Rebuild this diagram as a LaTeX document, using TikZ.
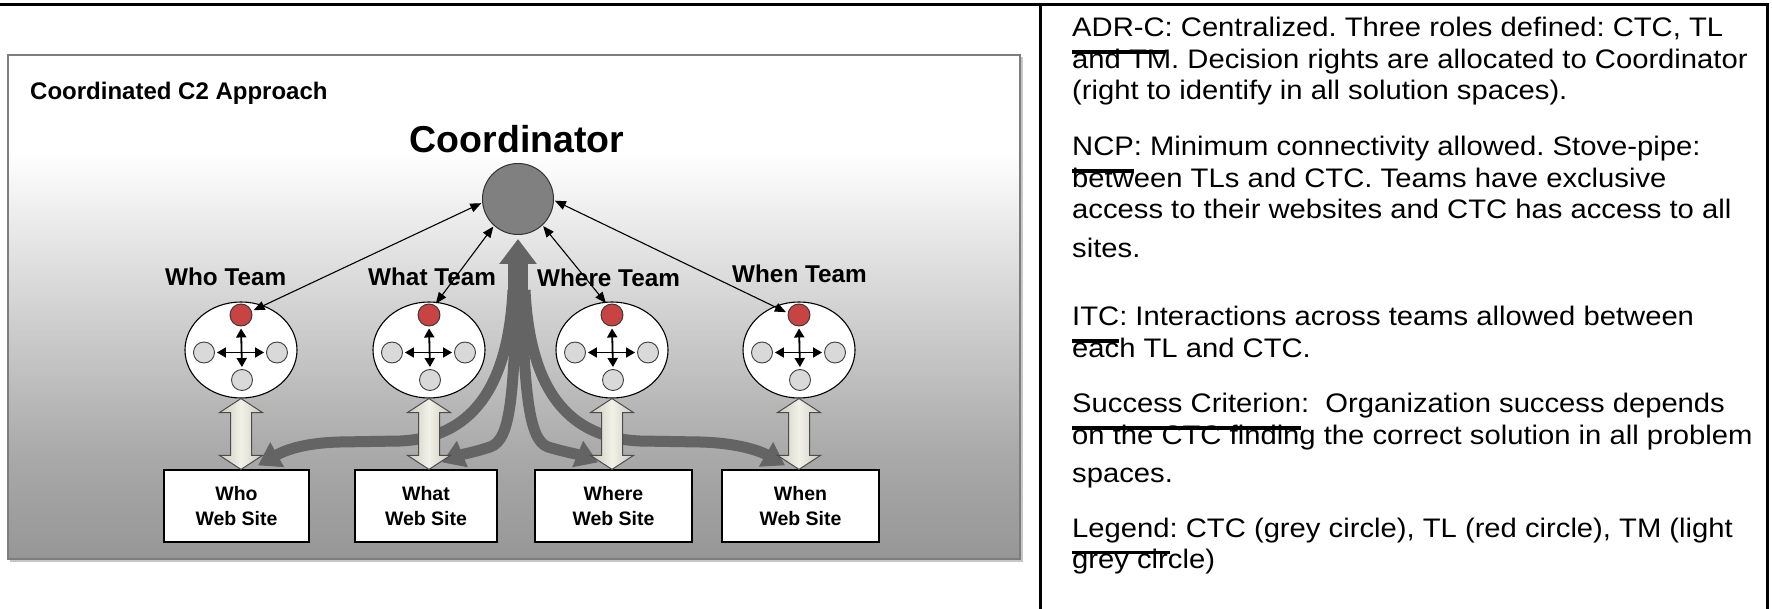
\documentclass[tikz,border=0pt]{standalone}
\usepackage{fontspec}
\setmainfont{Liberation Sans}
\newfontfamily\panelfont[FakeStretch=1.09]{Liberation Sans}
\usetikzlibrary{shapes.geometric,arrows.meta,calc}

\pgfdeclarelayer{framelayer}
\pgfdeclarelayer{pipelayer}
\pgfsetlayers{framelayer,pipelayer,main}

\definecolor{pipegray}{RGB}{100,100,100}
\definecolor{tlred}{RGB}{200,68,66}
\definecolor{tmgray}{RGB}{217,217,217}
\definecolor{ctcgray}{RGB}{128,128,128}
\definecolor{ivory}{RGB}{242,241,232}
\definecolor{ivoryedge}{RGB}{203,202,188}
\definecolor{framegray}{RGB}{125,125,125}

% thick bar set well below the baseline, as in the source document
\newcommand\ulbar[1]{\setbox0\hbox{#1}\rlap{\rule[-17pt]{\wd0}{3.5pt}}\box0}

\begin{document}
\frenchspacing
\begin{tikzpicture}[x=1pt,y=-1pt,
  sepline/.style={line width=3pt, draw=black},
  heading/.style={font=\fontsize{24}{28}\selectfont\bfseries, anchor=base west, inner sep=0},
  teamlabel/.style={font=\fontsize{24.3}{28}\selectfont\bfseries, anchor=base west, inner sep=0},
  teamring/.style={ellipse, draw=black, line width=1.1pt, fill=white, minimum width=112pt, minimum height=96pt, inner sep=0},
  leader/.style={circle, draw=black!80, line width=0.9pt, fill=tlred, minimum size=22pt, inner sep=0},
  member/.style={circle, draw=black!75, line width=0.9pt, fill=tmgray, minimum size=21pt, inner sep=0},
  hub/.style={circle, draw=black!80, line width=1pt, fill=ctcgray, minimum size=71pt, inner sep=0},
  sitebox/.style={rectangle, draw=black, line width=1.2pt, fill=white, minimum height=72pt, inner sep=0, align=center, font=\fontsize{19.5}{25}\selectfont\bfseries},
  tllink/.style={line width=1.1pt, {Triangle[length=11pt,width=9pt]}-{Triangle[length=11pt,width=9pt]}, shorten <=1pt, shorten >=2pt},
  teamcross/.style={line width=1.8pt, {Triangle[length=9pt,width=10pt]}-{Triangle[length=9pt,width=10pt]}, shorten <=2pt, shorten >=2pt},
  pipe/.style={line width=11pt, draw=pipegray, -{Triangle[length=22pt,width=27pt]}},
  siteway/.style={draw=black!70, line width=1pt, left color=ivoryedge, right color=ivoryedge, middle color=ivory},
  paneltext/.style={font=\panelfont\fontsize{26.8}{31.5}\selectfont\frenchspacing, anchor=base west, inner sep=0},
]
\useasboundingbox (0,0) rectangle (1772,609);

% diagram panel with vertical fade
\begin{pgfonlayer}{framelayer}
  \fill[white] (0,0) rectangle (1772,609);
  \begin{scope}
    \clip (8,55) rectangle (1020,559);
    \foreach \yy in {55,58,...,559} {
      \pgfmathsetmacro\g{\yy<150 ? 255 : (\yy<280 ? 255-(\yy-150)*37/130 : (\yy<450 ? 218-(\yy-280)*48/170 : 170-(\yy-450)*20/109))}
      \pgfmathsetmacro\gg{\g/255}
      \definecolor{stripgray}{gray}{\gg}
      \fill[stripgray] (8,\yy) rectangle (1020,\yy+4);
    }
  \end{scope}
  \draw[black!22, line width=1.5pt] (10,561) -- (1022,561) -- (1022,57);
  \draw[framegray, line width=1.5pt] (8,55) rectangle (1020,559);
\end{pgfonlayer}

% page rules
\draw[sepline] (0,4.7) -- (1768.5,4.7);
\draw[sepline] (1040.5,4.7) -- (1040.5,609);
\draw[sepline] (1767,4.7) -- (1767,609);

\node[heading] (title) at (30,100) {Coordinated C2 Approach};
\node[font=\fontsize{37.5}{42}\selectfont\bfseries, anchor=base, inner sep=0] (ctclabel) at (517,153) {Coordinator};

\node[hub] (ctc) at (518,199) {};
\coordinate (fork) at (518,300);

% web sites
\node[sitebox, minimum width=145pt] (b1) at (236.5,506) {Who\\Web Site};
\node[sitebox, minimum width=142pt] (b2) at (426,506) {What\\Web Site};
\node[sitebox, minimum width=157pt] (b3) at (613.5,506) {Where\\Web Site};
\node[sitebox, minimum width=157pt] (b4) at (800.5,506) {When\\Web Site};

% teams: leader on top, members left, right and below
\foreach \i/\cx in {1/241,2/429,3/612,4/799} {
  \node[teamring] (e\i) at (\cx,350) {};
  \node[leader] (tl\i) at (\cx,315) {};
  \node[member] (ml\i) at (\cx-37,352.5) {};
  \node[member] (mr\i) at (\cx+36,352.5) {};
  \node[member] (md\i) at (\cx+1,380) {};
  \draw[teamcross] (tl\i.south) -- (md\i.north);
  \draw[teamcross] (ml\i.east) -- (mr\i.west);
  \coordinate (w\i) at (e\i.south |- b\i.north);
  \path[siteway] (e\i.south) -- ++(21.5,14) -- ++(-11,0) -- ($(w\i)+(10.5,-14)$) -- ++(11,0) -- (w\i)
     -- ++(-21.5,-14) -- ++(11,0) -- ($(e\i.south)+(-10.5,14)$) -- ++(-11,0) -- cycle;
}

% stove-pipe links from the coordinator to every site
\begin{pgfonlayer}{pipelayer}
  \draw[line width=20pt, draw=pipegray, -{Triangle[length=25pt,width=36pt]}, shorten >=4pt] (fork) -- (ctc.south);
  \draw[pipe] ($(fork)+(-5,-10)$) .. controls (508,390) and (470,438) .. (400,441) -- (340,442)
     .. controls (300,443) and (282,452) .. ($(b1.north)+(21.5,-4)$);
  \draw[pipe] ($(fork)+(-1,-10)$) .. controls (513,390) and (512,440) .. (490,447)
     .. controls (475,452) and (460,455) .. ($(b2.north)+(16,-7)$);
  \draw[pipe] ($(fork)+(3,-10)$) .. controls (525,390) and (528,440) .. (548,447)
     .. controls (565,452) and (580,455) .. ($(b3.north)+(-15.5,-7)$);
  \draw[pipe] ($(fork)+(7,-10)$) .. controls (530,390) and (568,438) .. (640,441) -- (700,442)
     .. controls (740,443) and (762,452) .. ($(b4.north)+(-15.5,-4)$);
\end{pgfonlayer}

% team names
\node[teamlabel] (lab1) at (165,286) {Who Team};
\node[teamlabel] (lab2) at (368,286) {What Team};
\node[teamlabel] (lab3) at (537,287) {Where Team};
\node[teamlabel] (lab4) at (732,283) {When Team};

% coordinator to team leaders
\draw[tllink] (ctc.186) -- (tl1.20);
\draw[tllink] (ctc.228) -- (tl2.60);
\draw[tllink] (ctc.313) -- (tl3.115);
\draw[tllink] (ctc.358) -- (tl4.170);

% description column
\node[paneltext] (p1) at (1072,37) {\ulbar{ADR-C}: Centralized. Three roles defined: CTC, TL};
\node[paneltext] (p2) at (1072,68.5) {and TM. Decision rights are allocated to Coordinator};
\node[paneltext] (p3) at (1072,100) {(right to identify in all solution spaces).};
\node[paneltext] (p4) at (1072,156) {\ulbar{NCP}: Minimum connectivity allowed. Stove-pipe:};
\node[paneltext] (p5) at (1072,187.5) {between TLs and CTC. Teams have exclusive};
\node[paneltext] (p6) at (1072,219) {access to their websites and CTC has access to all};
\node[paneltext] (p7) at (1072,258) {sites.};
\node[paneltext] (p8) at (1072,326) {\ulbar{ITC}: Interactions across teams allowed between};
\node[paneltext] (p9) at (1072,357.5) {each TL and CTC.};
\node[paneltext] (p10) at (1072,413) {\ulbar{Success Criterion}:\ \ Organization success depends};
\node[paneltext] (p11) at (1072,444.5) {on the CTC finding the correct solution in all problem};
\node[paneltext] (p12) at (1072,482) {spaces.};
\node[paneltext] (p13) at (1072,537) {\ulbar{Legend}: CTC (grey circle), TL (red circle), TM (light};
\node[paneltext] (p14) at (1072,568.5) {grey circle)};
\end{tikzpicture}
\end{document}
